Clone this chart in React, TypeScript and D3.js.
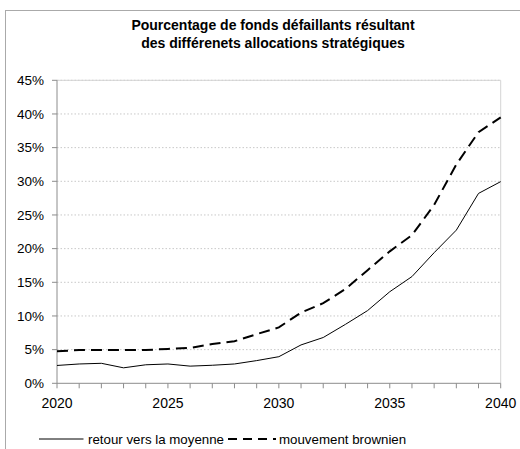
import React from "react";
import * as d3 from "d3";

const years = d3.range(2020, 2041);
const retourMoyenne = [2.65, 2.87, 2.97, 2.3, 2.75, 2.87, 2.55, 2.68, 2.87, 3.37, 3.95, 5.7, 6.8, 8.75, 10.8, 13.6, 15.85, 19.4, 22.75, 28.2, 29.95];
const mouvementBrownien = [4.75, 4.95, 4.95, 4.95, 4.95, 5.1, 5.25, 5.85, 6.25, 7.3, 8.3, 10.5, 11.9, 14.0, 16.8, 19.6, 22.0, 26.5, 32.5, 37.3, 39.5];
const yTicks = [0, 5, 10, 15, 20, 25, 30, 35, 40, 45];
const xLabels = [2020, 2025, 2030, 2035, 2040];
const titleLines = ["Pourcentage de fonds défaillants résultant", "des différenets allocations stratégiques"];
const seriesNames = ["retour vers la moyenne", "mouvement brownien"];

export default function App() {
  const W = 520, H = 449;
  const left = 57, right = 500.7, top = 80.3, bottom = 383.3;
  const x = d3.scaleLinear().domain([2020, 2040]).range([left, right]);
  const y = d3.scaleLinear().domain([0, 45]).range([bottom, top]);
  const line = d3.line<number>().x((_, i) => x(years[i])).y((d) => y(d));
  const font = "Liberation Sans, Arial, Helvetica, sans-serif";

  return (
    <svg width={W} height={H} style={{ position: "absolute", left: 0, top: 0, background: "#fff" }} fontFamily={font}>
      <rect x={5.5} y={10.5} width={W + 20} height={H + 20} fill="#fff" stroke="#aaa" strokeWidth={1} />
      {titleLines.map((t, i) => (
        <text key={i} x={273} y={30 + i * 17.5} textAnchor="middle" fontSize={14} fontWeight="bold" fill="#000">{t}</text>
      ))}
      {yTicks.filter((t) => t > 0).map((t) => (
        <line key={t} x1={left} x2={right} y1={y(t)} y2={y(t)} stroke="#c8c8c8" strokeWidth={1} strokeDasharray="1.5,2" />
      ))}
      <line x1={left} x2={right} y1={top} y2={top} stroke="#d4d4d4" strokeWidth={1} />
      <line x1={right} x2={right} y1={top} y2={bottom} stroke="#d4d4d4" strokeWidth={1} />
      <line x1={left} x2={left} y1={top} y2={bottom} stroke="#8c8c8c" strokeWidth={1} />
      <line x1={left} x2={right} y1={bottom} y2={bottom} stroke="#8c8c8c" strokeWidth={1} />
      {yTicks.map((t) => (
        <g key={t}>
          <line x1={left - 5} x2={left} y1={y(t)} y2={y(t)} stroke="#8c8c8c" />
          <text x={44} y={y(t)} dy="0.35em" textAnchor="end" fontSize={13.5} fill="#000">{t}%</text>
        </g>
      ))}
      {years.map((yr) => (
        <line key={yr} x1={x(yr)} x2={x(yr)} y1={bottom} y2={bottom + 5} stroke="#8c8c8c" />
      ))}
      {xLabels.map((yr) => (
        <text key={yr} x={x(yr)} y={402.7} dy="0.35em" textAnchor="middle" fontSize={14} fill="#000">{yr}</text>
      ))}
      <path d={line(retourMoyenne) || ""} fill="none" stroke="#000" strokeWidth={1} />
      <path d={line(mouvementBrownien) || ""} fill="none" stroke="#000" strokeWidth={2} strokeDasharray="11,6" />
      <line x1={39} x2={83.5} y1={439} y2={439} stroke="#000" strokeWidth={1} />
      <text x={88} y={439} dy="0.35em" fontSize={13.3} fill="#000">{seriesNames[0]}</text>
      <line x1={228} x2={276} y1={439} y2={439} stroke="#000" strokeWidth={2} strokeDasharray="9,6" />
      <text x={279} y={439} dy="0.35em" fontSize={13.3} fill="#000">{seriesNames[1]}</text>
    </svg>
  );
}
